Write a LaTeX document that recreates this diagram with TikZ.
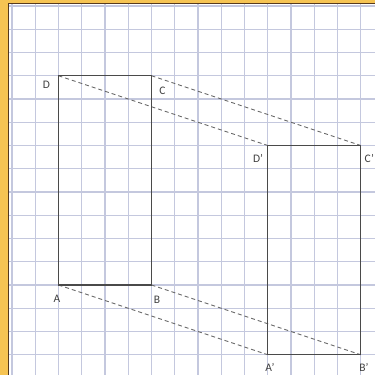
\documentclass[tikz,border=0pt]{standalone}
\usepackage{fontspec}
\setmainfont{Carlito}
\definecolor{frameor}{HTML}{F6C453}
\definecolor{gridc}{HTML}{C4C8DE}
\definecolor{shapec}{HTML}{4A4A4A}
\definecolor{dashc}{HTML}{666666}
\definecolor{labc}{HTML}{404040}
\tikzset{
  gridline/.style={draw=gridc, line width=1.4pt},
  figline/.style={draw=shapec, line width=1.3pt, line join=miter},
  proj/.style={draw=dashc, line width=0.9pt, dash pattern=on 4pt off 3pt},
  lab/.style={text=labc, font=\fontsize{11.5}{12}\selectfont, inner sep=0pt}
}
\begin{document}
\begin{tikzpicture}[x=1pt,y=-1pt]
\useasboundingbox (0,0) rectangle (375,375);
\fill[frameor] (0,0) rectangle (375,375);
\fill[white] (8,3) rectangle (375,375);
% grid
\foreach \i in {0,...,15} {
  \draw[gridline] ({12+\i*23.25},3) -- ({12+\i*23.25},375);
  \draw[gridline] (8,{6+\i*23.25}) -- (375,{6+\i*23.25});
}
\draw[draw=black!55!brown, line width=0.8pt] (8.4,375) -- (8.4,3.4) -- (375,3.4);
% corners
\coordinate (D) at (58.5,75.75);
\coordinate (C) at (151.5,75.75);
\coordinate (A) at (58.5,285);
\coordinate (B) at (151.5,285);
\coordinate (D2) at (267.75,145.5);
\coordinate (C2) at (360.75,145.5);
\coordinate (A2) at (267.75,354.75);
\coordinate (B2) at (360.75,354.75);
% projection lines
\draw[proj] (D) -- (D2);
\draw[proj] (C) -- (C2);
\draw[proj] (A) -- (A2);
\draw[proj] (B) -- (B2);
% figures
\draw[figline] (A) -- (B) -- (C) -- (D) -- cycle;
\draw[figline] (A2) -- (B2) -- (C2) -- (D2) -- cycle;
% labels
\node[lab] (lD) at (46.5,85) {D};
\node[lab] (lC) at (162.5,91) {C};
\node[lab] (lA) at (57,299) {A};
\node[lab] (lB) at (157,300) {B};
\node[lab] (lD2) at (258,158) {D'};
\node[lab] (lC2) at (369.3,158) {C'};
\node[lab] (lA2) at (270,367) {A'};
\node[lab] (lB2) at (364,367) {B'};
\end{tikzpicture}
\end{document}
